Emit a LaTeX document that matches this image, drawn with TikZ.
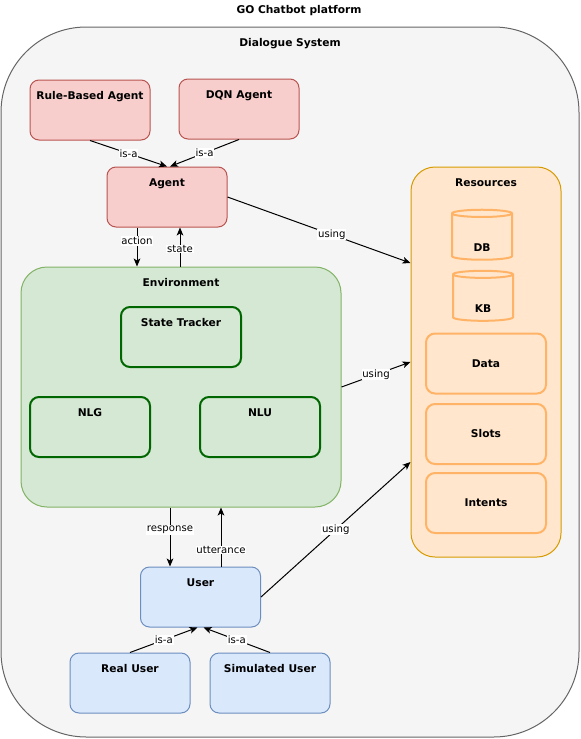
\documentclass[tikz,border=0pt]{standalone}
\usepackage{fontspec}
\setmainfont{DejaVu Sans}
\usetikzlibrary{arrows.meta,shapes.geometric,calc}

\definecolor{sysfill}{HTML}{F5F5F5}
\definecolor{sysline}{HTML}{666666}
\definecolor{agentfill}{HTML}{F8CECC}
\definecolor{agentline}{HTML}{B85450}
\definecolor{envfill}{HTML}{D5E8D4}
\definecolor{envline}{HTML}{82B366}
\definecolor{modline}{HTML}{006600}
\definecolor{resfill}{HTML}{FFE6CC}
\definecolor{resline}{HTML}{D79B00}
\definecolor{itemline}{HTML}{FFB366}
\definecolor{userfill}{HTML}{DAE8FC}
\definecolor{userline}{HTML}{6C8EBF}

\tikzset{every picture/.style={line width=0.75pt}}
\tikzset{
  boldtext/.style={font=\bfseries\fontsize{8}{9.6}\selectfont},
  box/.style={draw, boldtext, rounded corners=6.75pt, minimum width=90pt, minimum height=45pt,
    inner ysep=0pt, text height=14.9pt, text depth=30.1pt},
  agentbox/.style={box, fill=agentfill, draw=agentline},
  userbox/.style={box, fill=userfill, draw=userline},
  modbox/.style={box, draw=modline, line width=1.5pt},
  itembox/.style={draw=itemline, line width=1.5pt, boldtext, rounded corners=6.75pt,
    minimum width=90pt, minimum height=45pt},
  store/.style={cylinder, shape border rotate=90, aspect=0.28, draw=itemline, line width=1.5pt,
    boldtext, minimum width=45pt, minimum height=37.5pt, text height=20.8pt, text depth=0pt},
  link/.style={-{Stealth[length=6pt,width=5pt,inset=1.5pt]}},
  edgelabel/.style={fill=white, inner sep=0.6pt, font=\fontsize{7.6}{9}\selectfont},
}

\begin{document}
\begin{tikzpicture}[x=0.75pt,y=0.75pt,yscale=-1,xscale=1]
	\useasboundingbox (0,0) rectangle (581,739);

	% Text Node
	\node[boldtext] (title) at (299,11) {GO Chatbot platform};
	%Shape: Rounded Rect
	\node[draw=sysline, fill=sysfill, boldtext, rounded corners=64pt, minimum width=433.5pt,
	  minimum height=532.5pt, inner ysep=0pt, text height=14.9pt, text depth=517.6pt] (dsys) at (290,382) {Dialogue System};

	%Shape: Rounded Rect
	\node[agentbox] (rule) at (90,110) {Rule-Based Agent};
	\node[agentbox] (dqn) at (239,109) {DQN Agent};
	\node[agentbox] (agent) at (167,197) {Agent};

	%Shape: Rounded Rect
	\node[draw=envline, fill=envfill, boldtext, rounded corners=19.5pt, minimum width=240pt,
	  minimum height=180pt, inner ysep=0pt, text height=14.9pt, text depth=165.1pt] (env) at (181,387) {Environment};
	\node[modbox] (tracker) at (181,337) {State Tracker};
	\node[modbox] (nlg) at (90,427) {NLG};
	\node[modbox] (nlu) at (260,427) {NLU};

	%Shape: Rounded Rect
	\node[draw=resline, fill=resfill, boldtext, rounded corners=18pt, minimum width=112.5pt,
	  minimum height=292.5pt, inner ysep=0pt, text height=14.9pt, text depth=277.6pt] (res) at (486,362) {Resources};
	%Shape: Can
	\node[store] (db) at (482,238) {DB};
	\node[store] (kb) at (483,299) {KB};
	\node[itembox] (data) at (486,363.5) {Data};
	\node[itembox] (slots) at (486,434) {Slots};
	\node[itembox] (intents) at (486,503) {Intents};

	%Shape: Rounded Rect
	\node[userbox] (user) at (200.5,597) {User};
	\node[userbox] (real) at (130,683) {Real User};
	\node[userbox] (sim) at (270,683) {Simulated User};

	%Straight Lines
	\draw[link] (rule.south) -- node[edgelabel] {is-a} (agent.north);
	\draw[link] (dqn.south) -- node[edgelabel] {is-a} ($(agent.north)+(3,0)$);
	\draw[link] ($(agent.south)+(-30,0)$) -- node[edgelabel,pos=0.35] {action} ($(env.north)+(-44,0)$);
	\draw[link] ($(env.north)+(-1,0)$) -- node[edgelabel,pos=0.45] {state} ($(agent.south)+(13,0)$);
	\draw[link] (agent.east) -- node[edgelabel,pos=0.57] {using} ($(res.west)+(0,-99)$);
	\draw[link] (env.east) -- node[edgelabel] {using} (res.west);
	\draw[link] (user.east) -- node[edgelabel] {using} ($(res.west)+(0,100)$);
	\draw[link] ($(env.south)+(-11,0)$) -- node[edgelabel,pos=0.38] {response} ($(user.north)+(-30.5,0)$);
	\draw[link] ($(user.north)+(20.5,0)$) -- node[edgelabel,pos=0.28] {utterance} ($(env.south)+(40,0)$);
	\draw[link] (real.north) -- node[edgelabel] {is-a} ($(user.south)+(-3,0)$);
	\draw[link] (sim.north) -- node[edgelabel] {is-a} ($(user.south)+(3,0)$);

\end{tikzpicture}
\end{document}
